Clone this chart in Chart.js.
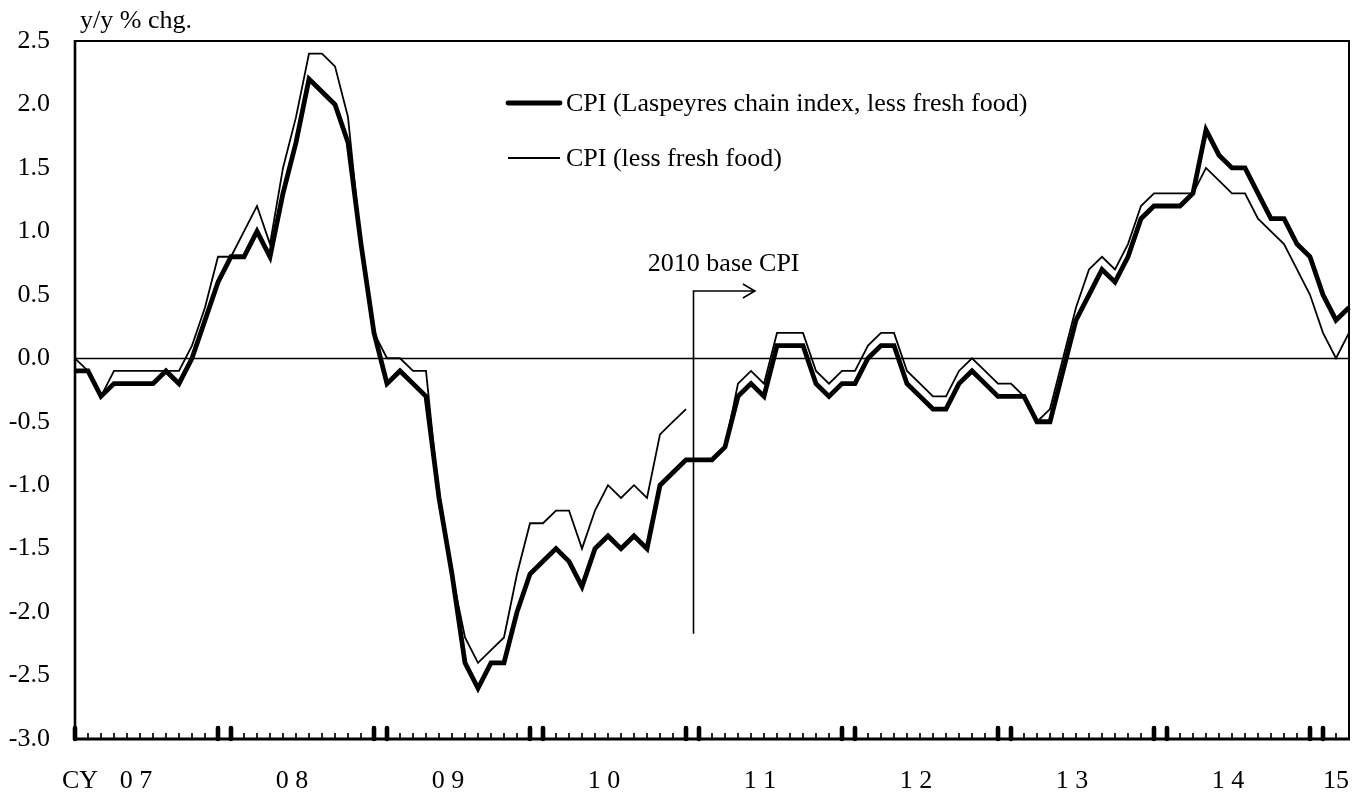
<!DOCTYPE html>
<html>
<head>
<meta charset="utf-8">
<script src="https://cdn.jsdelivr.net/npm/chart.js@4.4.1/dist/chart.umd.min.js"></script>
<style>
  html, body { margin: 0; padding: 0; background: #fff; }
  #wrap { width: 1362px; height: 792px; position: relative; }
</style>
</head>
<body>
<div id="wrap"><canvas id="cpi"></canvas></div>
<script>
// monthly categories, Jan 2007 .. Mar 2015
const months = [];
for (let y = 2007; y <= 2015; y++) {
  for (let m = 1; m <= 12; m++) {
    if (y === 2015 && m > 3) break;
    months.push(y + '/' + String(m).padStart(2, '0'));
  }
}

// CPI less fresh food, Laspeyres chain index (y/y %)
const chainCpi = [
  -0.1, -0.1, -0.3, -0.2, -0.2, -0.2, -0.2, -0.1, -0.2,  0.0,  0.3,  0.6,
   0.8,  0.8,  1.0,  0.8,  1.3,  1.7,  2.2,  2.1,  2.0,  1.7,  0.9,  0.2,
  -0.2, -0.1, -0.2, -0.3, -1.1, -1.7, -2.4, -2.6, -2.4, -2.4, -2.0, -1.7,
  -1.6, -1.5, -1.6, -1.8, -1.5, -1.4, -1.5, -1.4, -1.5, -1.0, -0.9, -0.8,
  -0.8, -0.8, -0.7, -0.3, -0.2, -0.3,  0.1,  0.1,  0.1, -0.2, -0.3, -0.2,
  -0.2,  0.0,  0.1,  0.1, -0.2, -0.3, -0.4, -0.4, -0.2, -0.1, -0.2, -0.3,
  -0.3, -0.3, -0.5, -0.5, -0.1,  0.3,  0.5,  0.7,  0.6,  0.8,  1.1,  1.2,
   1.2,  1.2,  1.3,  1.8,  1.6,  1.5,  1.5,  1.3,  1.1,  1.1,  0.9,  0.8,
   0.5,  0.3,  0.4
];

// CPI less fresh food, fixed-base index (2005 base to Dec 2010, 2010 base after)
const fixedCpi = [
   0.0, -0.1, -0.3, -0.1, -0.1, -0.1, -0.1, -0.1, -0.1,  0.1,  0.4,  0.8,
   0.8,  1.0,  1.2,  0.9,  1.5,  1.9,  2.4,  2.4,  2.3,  1.9,  0.9,  0.2,
   0.0,  0.0, -0.1, -0.1, -1.1, -1.7, -2.2, -2.4, -2.3, -2.2, -1.7, -1.3,
  -1.3, -1.2, -1.2, -1.5, -1.2, -1.0, -1.1, -1.0, -1.1, -0.6, -0.5, -0.4,
  -0.8, -0.8, -0.7, -0.2, -0.1, -0.2,  0.2,  0.2,  0.2, -0.1, -0.2, -0.1,
  -0.1,  0.1,  0.2,  0.2, -0.1, -0.2, -0.3, -0.3, -0.1,  0.0, -0.1, -0.2,
  -0.2, -0.3, -0.5, -0.4,  0.0,  0.4,  0.7,  0.8,  0.7,  0.9,  1.2,  1.3,
   1.3,  1.3,  1.3,  1.5,  1.4,  1.3,  1.3,  1.1,  1.0,  0.9,  0.7,  0.5,
   0.2,  0.0,  0.2
];

const yTicks = [2.5, 2.0, 1.5, 1.0, 0.5, 0.0, -0.5, -1.0, -1.5, -2.0, -2.5, -3.0];
const yearLabels = ['0 7', '0 8', '0 9', '1 0', '1 1', '1 2', '1 3', '1 4', '15'];
const seriesNames = ['CPI (Laspeyres chain index, less fresh food)', 'CPI (less fresh food)'];

const lastOldBase = 47; // Dec 2010, last month on the 2005 base

const F = "'Liberation Serif', 'Times New Roman', serif";
const FS = 26;

const decor = {
  id: 'decor',
  beforeDatasetsDraw(chart) {
    const { ctx, chartArea: a, scales: { y } } = chart;
    const y0 = Math.round(y.getPixelForValue(0)) + 0.5;
    ctx.save();
    ctx.strokeStyle = '#000';
    ctx.lineWidth = 1.6;
    ctx.beginPath(); ctx.moveTo(a.left, y0); ctx.lineTo(a.right, y0); ctx.stroke();
    ctx.restore();
  },
  afterDraw(chart) {
    const { ctx, chartArea: a, scales: { x, y } } = chart;
    ctx.save();
    ctx.strokeStyle = '#000';
    ctx.fillStyle = '#000';

    // frame
    ctx.lineWidth = 2;
    ctx.beginPath(); ctx.moveTo(a.left, a.top); ctx.lineTo(a.right, a.top); ctx.lineTo(a.right, a.bottom); ctx.stroke();
    ctx.lineWidth = 2.6;
    ctx.beginPath(); ctx.moveTo(a.left, a.top - 1); ctx.lineTo(a.left, a.bottom); ctx.stroke();
    ctx.lineWidth = 3.2;
    ctx.beginPath(); ctx.moveTo(a.left - 1, a.bottom); ctx.lineTo(a.right + 1, a.bottom); ctx.stroke();

    // month ticks, heavier pair at each turn of the year
    months.forEach((mo, i) => {
      if (i === months.length - 1) return;
      const px = x.getPixelForValue(i);
      const heavy = i % 12 === 0 || i % 12 === 11;
      ctx.lineCap = heavy ? 'round' : 'butt';
      ctx.lineWidth = heavy ? 4.6 : 1.7;
      ctx.beginPath();
      ctx.moveTo(px, a.bottom);
      ctx.lineTo(px, a.bottom - (heavy ? 11 : 6));
      ctx.stroke();
    });
    ctx.lineCap = 'butt';

    ctx.font = `${FS}px ${F}`;

    // y axis labels
    ctx.textAlign = 'right';
    ctx.textBaseline = 'middle';
    yTicks.forEach(v => ctx.fillText(v.toFixed(1), a.left - 25, y.getPixelForValue(v)));

    ctx.textAlign = 'left';
    ctx.textBaseline = 'alphabetic';
    ctx.fillText('y/y % chg.', a.left + 5, 28);

    // year labels
    ctx.textAlign = 'center';
    yearLabels.forEach((t, k) => {
      const idx = k < yearLabels.length - 1 ? k * 12 + 4.7 : months.length - 2;
      ctx.fillText(t, x.getPixelForValue(idx), 788);
    });
    ctx.textAlign = 'left';
    ctx.fillText('CY', a.left - 13, 788);

    // legend
    const lx = a.left + 433;
    chart.data.datasets.forEach((ds, i) => {
      const ly = i === 0 ? 103 : 158;
      ctx.lineWidth = ds.borderWidth;
      ctx.lineCap = i === 0 ? 'round' : 'butt';
      ctx.beginPath(); ctx.moveTo(lx, ly); ctx.lineTo(lx + 52, ly); ctx.stroke();
      ctx.textBaseline = 'middle';
      ctx.fillText(seriesNames[i], lx + 58, ly + 1);
    });
    ctx.lineCap = 'butt';

    // base change marker
    const bx = Math.round(x.getPixelForValue(lastOldBase + 0.5)) + 0.5;
    const top = y.getPixelForValue(0.53);
    const bot = y.getPixelForValue(-2.17);
    const ax = x.getPixelForValue(lastOldBase + 5.3);
    ctx.lineWidth = 1.6;
    ctx.beginPath();
    ctx.moveTo(bx, bot); ctx.lineTo(bx, top); ctx.lineTo(ax, top);
    ctx.moveTo(ax - 12, top - 7); ctx.lineTo(ax, top); ctx.lineTo(ax - 12, top + 7);
    ctx.stroke();
    ctx.textAlign = 'center';
    ctx.textBaseline = 'middle';
    ctx.fillText('2010 base CPI', x.getPixelForValue(lastOldBase + 2.9), y.getPixelForValue(0.74));

    ctx.restore();
  }
};

new Chart(document.getElementById('cpi'), {
  type: 'line',
  data: {
    labels: months,
    datasets: [
      {
        label: seriesNames[0],
        data: chainCpi,
        borderColor: '#000',
        borderWidth: 4.8,
        borderJoinStyle: 'miter',
        pointRadius: 0,
        tension: 0,
        fill: false
      },
      {
        label: seriesNames[1],
        data: fixedCpi,
        borderColor: '#000',
        borderWidth: 1.8,
        borderJoinStyle: 'miter',
        pointRadius: 0,
        tension: 0,
        fill: false,
        segment: {
          borderColor: c => c.p0DataIndex === lastOldBase ? 'rgba(0,0,0,0)' : undefined
        }
      }
    ]
  },
  options: {
    responsive: true,
    maintainAspectRatio: false,
    animation: false,
    layout: { padding: { left: 75, right: 13, top: 41, bottom: 53 } },
    plugins: { legend: { display: false }, tooltip: { enabled: false } },
    scales: {
      x: { display: false },
      y: { display: false, min: -3, max: 2.5 }
    }
  },
  plugins: [decor]
});
</script>
</body>
</html>
